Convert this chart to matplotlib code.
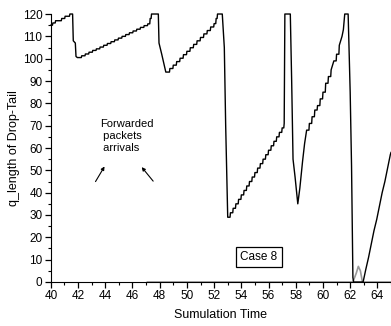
import matplotlib
matplotlib.use("Agg")
import matplotlib.pyplot as plt
from matplotlib.ticker import MultipleLocator

plt.rcParams['font.family'] = ['Liberation Sans', 'DejaVu Sans']

# queue length of the Drop-Tail router (step points)
sim_time = [40.0, 40.15, 40.35, 40.6, 40.8, 41.05, 41.25, 41.4, 41.6,
            41.65, 41.8, 41.85, 41.95,
            42.0, 42.27, 42.54, 42.81, 43.08, 43.35, 43.62, 43.89, 44.16, 44.43,
            44.7, 44.97, 45.24, 45.51, 45.78, 46.05, 46.32, 46.59, 46.86, 47.13,
            47.3, 47.4, 47.9,
            47.95, 48.15, 48.45,
            48.5, 48.75, 49.0, 49.25, 49.5, 49.75, 50.0, 50.25, 50.5, 50.75,
            51.0, 51.25, 51.5, 51.75, 52.0, 52.15, 52.25, 52.6,
            52.7, 52.75, 52.85,
            53.0, 53.2, 53.4, 53.6, 53.8, 54.0, 54.2, 54.4, 54.6, 54.8, 55.0,
            55.2, 55.4, 55.6, 55.8, 56.0, 56.2, 56.4, 56.6, 56.8, 57.0, 57.15,
            57.2, 57.6, 57.7, 57.8, 57.95, 58.15, 58.3, 58.5, 58.65, 58.8,
            59.0, 59.2, 59.4, 59.6, 59.8, 60.0, 60.2, 60.4, 60.6, 60.8, 61.0,
            61.2, 61.4, 61.5, 61.6, 61.85,
            62.0, 62.1, 62.2, 62.25, 62.95,
            63.15, 63.35, 63.55, 63.75, 63.95, 64.15, 64.35, 64.55, 64.75, 64.95, 65.0]
q_length = [115, 116, 117, 117, 118, 119, 119, 120, 120,
            108, 107, 101, 100.5,
            100.5, 101.3, 102.1, 102.9, 103.7, 104.4, 105.2, 106.0, 106.8, 107.6,
            108.4, 109.2, 110.0, 110.8, 111.6, 112.4, 113.2, 114.0, 114.8, 115.6,
            118, 120, 120,
            107, 102, 94,
            94.0, 95.6, 97.1, 98.7, 100.2, 101.8, 103.3, 104.9, 106.4, 108.0,
            109.5, 111.1, 112.6, 114.2, 115.7, 118, 120, 120,
            110, 105, 70,
            29, 31, 33, 35, 37, 39, 41, 43, 45, 47, 49,
            51, 53, 55, 57, 59, 61, 63, 65, 67, 69, 71,
            120, 120, 90, 55, 47, 35, 42, 54, 62, 68,
            71, 74, 77, 79, 82, 85, 89, 92, 95, 99, 102,
            106, 110, 113, 120, 120,
            85, 52, 2, 0, 0,
            5.7, 11, 17, 23, 28, 34, 40, 45, 51, 57, 58]

# faint second trace near zero
gray_time = [47.1, 62.2, 62.45, 62.6, 62.75, 62.9, 65.0]
gray_q = [0, 0, 4, 7, 5, 0, 0]

# draw slow rises as small steps (packet arrivals), fast parts as straight lines
xs, ys = [sim_time[0]], [q_length[0]]
for i in range(1, len(sim_time)):
    dt = sim_time[i] - sim_time[i - 1]
    dq = q_length[i] - q_length[i - 1]
    if 0 < dq and dt > 0 and dq / dt < 20:
        xs.append(sim_time[i] - 0.03)
        ys.append(q_length[i - 1])
    xs.append(sim_time[i])
    ys.append(q_length[i])

fig = plt.figure(figsize=(3.91, 3.26), dpi=100)
ax = fig.add_axes([0.130, 0.135, 0.870, 0.822])

ax.plot(gray_time, gray_q, color='#999999', lw=1.2, clip_on=False)
ax.plot(xs, ys, color='black', lw=1.0, clip_on=False)

ax.set_xlim(40, 65)
ax.set_ylim(0, 120)
ax.spines['top'].set_visible(False)
ax.spines['right'].set_visible(False)
ax.xaxis.set_major_locator(MultipleLocator(2))
ax.xaxis.set_minor_locator(MultipleLocator(1))
ax.yaxis.set_major_locator(MultipleLocator(10))
ax.yaxis.set_minor_locator(MultipleLocator(5))
ax.tick_params(which='major', direction='out', length=4, width=0.9, labelsize=8.5, pad=2)
ax.tick_params(which='minor', direction='out', length=2.5, width=0.8)

ax.set_xlabel('Sumulation Time', fontsize=9, labelpad=5)
ax.set_ylabel('q_length of Drop-Tail', fontsize=9, labelpad=2)

ax.text(43.6, 73, 'Forwarded\n packets\n arrivals', fontsize=8, va='top', ha='left',
        linespacing=1.25)
ax.annotate('', xy=(44.05, 52.8), xytext=(43.18, 43.9),
            arrowprops=dict(arrowstyle='-|>', color='black', lw=0.8, mutation_scale=5))
ax.annotate('', xy=(46.55, 52.4), xytext=(47.65, 44.2),
            arrowprops=dict(arrowstyle='-|>', color='black', lw=0.8, mutation_scale=5))

ax.text(55.3, 11.2, 'Case 8', fontsize=8.5, ha='center', va='center',
        bbox=dict(boxstyle='square,pad=0.35', fc='white', ec='black', lw=0.9))

fig.savefig('out.png', dpi=100)
